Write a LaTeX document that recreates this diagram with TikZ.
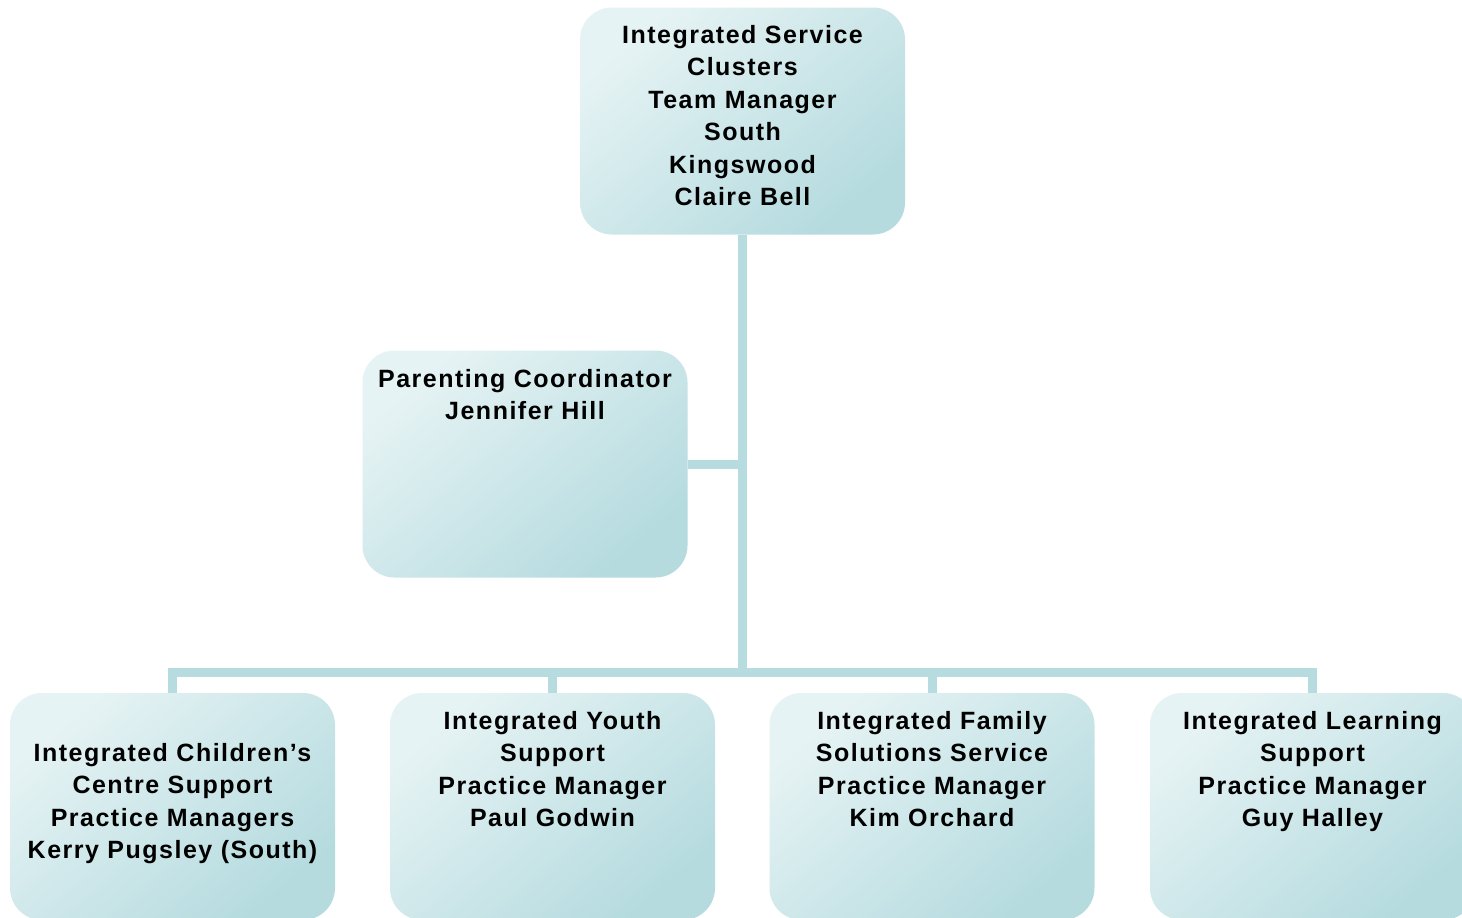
\documentclass[tikz,border=0pt]{standalone}
\usepackage{fontspec}
\setmainfont{Liberation Sans}[LetterSpace=6]
\definecolor{boxlight}{HTML}{E6F3F4}
\definecolor{boxdark}{HTML}{B5DBDF}
\definecolor{linecol}{HTML}{B6DCE0}
\tikzset{
  orgbox/.style={rectangle, rounded corners=32pt, minimum width=325pt, minimum height=227pt,
    inner sep=0pt, top color=boxlight, bottom color=boxdark, shading angle=40},
  orgtext/.style={anchor=north, align=center, inner sep=0pt, text=black,
    font=\fontsize{25}{32.5}\selectfont\bfseries},
  conn/.style={draw=linecol, line width=9pt}
}
\begin{document}
\begin{tikzpicture}[x=1pt,y=-1pt]
\fill[white] (0,0) rectangle (1462,918);
\clip (0,0) rectangle (1462,918);
% boxes
\node[orgbox] (top) at (742.5,121) {};
\node[orgbox] (mid) at (525,464) {};
\node[orgbox] (b1) at (172.5,806.5) {};
\node[orgbox] (b2) at (552.5,806.5) {};
\node[orgbox] (b3) at (932,806.5) {};
\node[orgbox] (b4) at (1312.5,806.5) {};
% connectors
\coordinate (bus) at (742.5,672.5);
\draw[conn] (top.south) -- (bus);
\draw[conn] (mid.east) -- (mid.east -| top.south);
\draw[conn] (bus) -| (b1.north);
\draw[conn] (bus) -| (b2.north);
\draw[conn] (bus) -| (b3.north);
\draw[conn] (bus) -| (b4.north);
% texts
\node[orgtext] (topt) at (742.5,25) {Integrated Service\\Clusters\\Team Manager\\South\\Kingswood\\Claire Bell};
\node[orgtext] (midt) at (525,369) {Parenting Coordinator\\Jennifer Hill};
\node[orgtext] (b1t) at (172.5,743) {Integrated Children’s\\Centre Support\\Practice Managers\\Kerry Pugsley (South)};
\node[orgtext] (b2t) at (552.5,711) {Integrated Youth\\Support\\Practice Manager\\Paul Godwin};
\node[orgtext] (b3t) at (932,711) {Integrated Family\\Solutions Service\\Practice Manager\\Kim Orchard};
\node[orgtext] (b4t) at (1312.5,711) {Integrated Learning\\Support\\Practice Manager\\Guy Halley};
\end{tikzpicture}
\end{document}
